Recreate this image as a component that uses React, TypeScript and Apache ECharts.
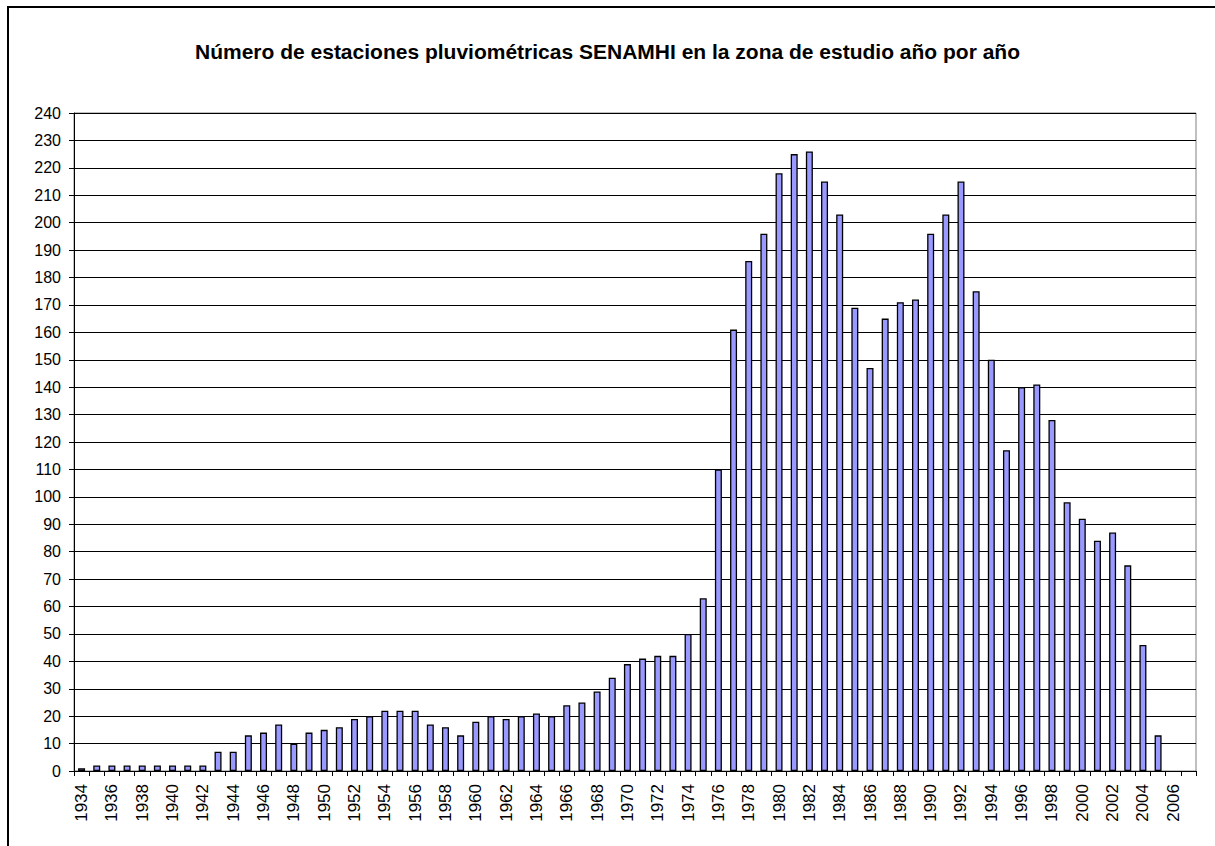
import React, { useEffect, useRef } from "react";
import * as echarts from "echarts";

const years: string[] = [];
for (let y = 1934; y <= 2007; y++) years.push(String(y));

const stations: (number | null)[] = [
  1, 2, 2, 2, 2, 2, 2, 2, 2, 7,
  7, 13, 14, 17, 10, 14, 15, 16, 19, 20,
  22, 22, 22, 17, 16, 13, 18, 20, 19, 20,
  21, 20, 24, 25, 29, 34, 39, 41, 42, 42,
  50, 63, 110, 161, 186, 196, 218, 225, 226, 215,
  203, 169, 147, 165, 171, 172, 196, 203, 215, 175,
  150, 117, 140, 141, 128, 98, 92, 84, 87, 75,
  46, 13, null, null,
];

const titleText = "Número de estaciones pluviométricas SENAMHI en la zona de estudio año por año";

export default function App() {
  const ref = useRef<HTMLDivElement>(null);
  useEffect(() => {
    if (!ref.current) return;
    const chart = echarts.init(ref.current, undefined, { renderer: "svg" });
    chart.setOption({
      animation: false,
      backgroundColor: "#ffffff",
      title: {
        text: titleText,
        left: "center",
        top: 36,
        textStyle: { fontFamily: "Liberation Sans, Arial", fontSize: 21, fontWeight: "bold", color: "#000" },
      },
      graphic: [
        { type: "line", shape: { x1: 7, y1: 7, x2: 1215, y2: 7 }, style: { stroke: "#000", lineWidth: 2 } },
        { type: "line", shape: { x1: 8, y1: 6, x2: 8, y2: 846 }, style: { stroke: "#000", lineWidth: 2 } },
      ],
      grid: {
        left: 74,
        right: 19,
        top: 113,
        bottom: 75,
        show: true,
        borderColor: "#808080",
        borderWidth: 1,
        containLabel: false,
      },
      xAxis: {
        type: "category",
        data: years,
        boundaryGap: true,
        axisLine: { lineStyle: { color: "#000", width: 1 } },
        axisTick: { show: true, interval: 0, length: 5, lineStyle: { color: "#000" } },
        axisLabel: {
          interval: 1,
          rotate: 90,
          margin: 13,
          fontFamily: "Liberation Sans, Arial",
          fontSize: 17,
          color: "#000",
        },
        splitLine: { show: false },
      },
      yAxis: {
        type: "value",
        min: 0,
        max: 240,
        interval: 10,
        axisLine: { show: true, lineStyle: { color: "#000", width: 1 } },
        axisTick: { show: true, length: 5, lineStyle: { color: "#000" } },
        axisLabel: {
          margin: 13,
          fontFamily: "Liberation Sans, Arial",
          fontSize: 16,
          color: "#000",
        },
        splitLine: { show: true, lineStyle: { color: "#000", width: 1 } },
      },
      series: [
        {
          type: "bar",
          data: stations,
          barWidth: 7,
          itemStyle: { color: "#9999FF", borderColor: "#000", borderWidth: 1.3 },
        },
      ],
    });
    return () => chart.dispose();
  }, []);
  return (
    <div
      ref={ref}
      style={{ position: "absolute", left: 0, top: 0, width: 1215, height: 846 }}
    />
  );
}
